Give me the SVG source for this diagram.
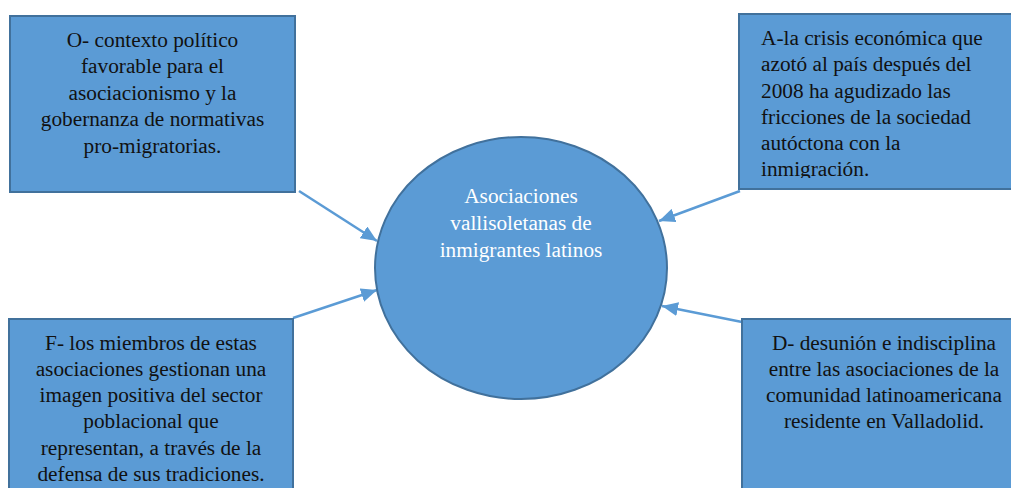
<svg xmlns="http://www.w3.org/2000/svg" width="1011" height="488" viewBox="0 0 1011 488">
<style>
.box{fill:#5B9BD5;stroke:#41719C;stroke-width:2}
.t{font-family:"Liberation Serif","Times New Roman",serif;font-size:21.3px;fill:#111111}
.c{text-anchor:middle}
.w{fill:#FFFFFF}
.con{stroke:#5B9BD5;stroke-width:2.5;fill:none}
</style>
<defs>
<marker id="ah" markerUnits="userSpaceOnUse" markerWidth="18" markerHeight="14" refX="16" refY="7" orient="auto">
<path d="M0,0 L16,7 L0,14 Z" fill="#5B9BD5"/>
</marker>
<clipPath id="clipA"><rect x="739" y="14" width="272" height="164"/></clipPath>
</defs>
<rect width="1011" height="488" fill="#FFFFFF"/>
<g id="connectors">
<line class="con" x1="299" y1="191" x2="377" y2="241" marker-end="url(#ah)"/>
<line class="con" x1="293" y1="318" x2="377" y2="290" marker-end="url(#ah)"/>
<line class="con" x1="740" y1="191" x2="659" y2="221" marker-end="url(#ah)"/>
<line class="con" x1="742" y1="322" x2="662" y2="306" marker-end="url(#ah)"/>
</g>
<g id="node-O">
<rect class="box" x="10" y="16" width="285" height="176"/>
<text class="t c" x="152.5" y="47">O- contexto político</text>
<text class="t c" x="152.5" y="73">favorable para el</text>
<text class="t c" x="152.5" y="99.5">asociacionismo y la</text>
<text class="t c" x="152.5" y="126">gobernanza de normativas</text>
<text class="t c" x="152.5" y="153">pro-migratorias.</text>
</g>
<g id="node-A">
<rect class="box" x="739" y="14" width="290" height="175"/>
<g clip-path="url(#clipA)">
<text class="t" x="761" y="45">A-la crisis económica que</text>
<text class="t" x="761" y="71">azotó al país después del</text>
<text class="t" x="761" y="98">2008 ha agudizado las</text>
<text class="t" x="761" y="124">fricciones de la sociedad</text>
<text class="t" x="761" y="150">autóctona con la</text>
<text class="t" x="761" y="176">inmigración.</text>
</g>
</g>
<g id="node-center">
<ellipse class="box" cx="521" cy="268" rx="146" ry="131"/>
<text class="t c w" x="521" y="203">Asociaciones</text>
<text class="t c w" x="521" y="230">vallisoletanas de</text>
<text class="t c w" x="521" y="257">inmigrantes latinos</text>
</g>
<g id="node-F">
<rect class="box" x="9" y="319" width="284" height="190"/>
<text class="t c" x="151" y="350">F- los miembros de estas</text>
<text class="t c" x="151" y="376">asociaciones gestionan una</text>
<text class="t c" x="151" y="402">imagen positiva del sector</text>
<text class="t c" x="151" y="428">poblacional que</text>
<text class="t c" x="151" y="455">representan, a través de la</text>
<text class="t c" x="151" y="481">defensa de sus tradiciones.</text>
</g>
<g id="node-D">
<rect class="box" x="742" y="319" width="284" height="190"/>
<text class="t c" x="884" y="350">D- desunión e indisciplina</text>
<text class="t c" x="884" y="376">entre las asociaciones de la</text>
<text class="t c" x="884" y="402">comunidad latinoamericana</text>
<text class="t c" x="884" y="428">residente en Valladolid.</text>
</g>
</svg>
